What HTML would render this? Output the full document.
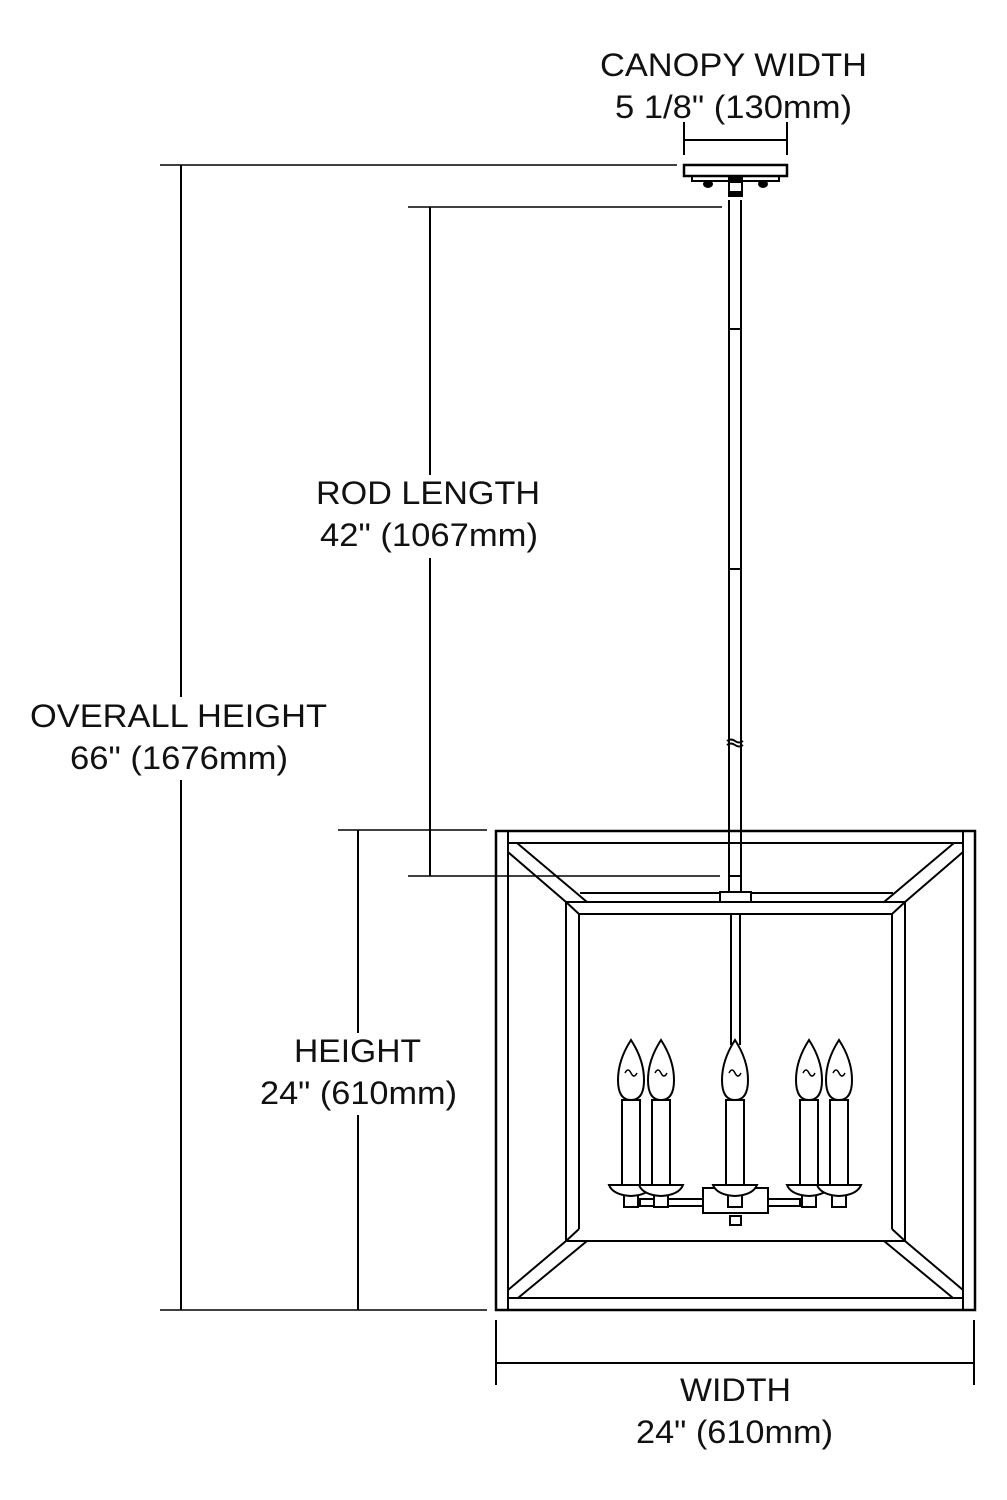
<!DOCTYPE html>
<html><head><meta charset="utf-8"><style>html,body{margin:0;padding:0;background:#fff}svg{display:block}</style></head>
<body>
<svg width="1007" height="1500" viewBox="0 0 1007 1500" xmlns="http://www.w3.org/2000/svg" font-family="Liberation Sans, Arial, sans-serif" font-size="32" fill="#111">
<g stroke="#000" stroke-width="2" fill="none">
<!-- dimension lines -->
<line x1="160" y1="165" x2="677" y2="165" stroke-width="1.5"/>
<line x1="160" y1="1310" x2="487" y2="1310" stroke-width="1.5"/>
<line x1="181" y1="165" x2="181" y2="697"/>
<line x1="181" y1="780" x2="181" y2="1310"/>
<line x1="408" y1="207" x2="722" y2="207" stroke-width="1.5"/>
<line x1="408" y1="876" x2="720" y2="876" stroke-width="1.5"/>
<line x1="430" y1="207" x2="430" y2="475"/>
<line x1="430" y1="558" x2="430" y2="876"/>
<line x1="338" y1="830" x2="487" y2="830" stroke-width="1.5"/>
<line x1="358" y1="830" x2="358" y2="1033"/>
<line x1="358" y1="1115" x2="358" y2="1310"/>
<line x1="496" y1="1320" x2="496" y2="1385"/>
<line x1="974" y1="1320" x2="974" y2="1385"/>
<line x1="496" y1="1363" x2="974" y2="1363"/>
<line x1="684" y1="122" x2="684" y2="155"/>
<line x1="787" y1="122" x2="787" y2="155"/>
<line x1="684" y1="140" x2="787" y2="140"/>
<!-- canopy -->
<rect x="684" y="165" width="103" height="11" stroke-width="2.5"/>
<rect x="692" y="176" width="87" height="5"/>
<rect x="729" y="180" width="13" height="14" fill="#fff"/>
<rect x="729" y="178" width="13" height="4" fill="#000"/>
<rect x="729" y="192" width="13" height="4" fill="#000"/>
<ellipse cx="708" cy="184" rx="4" ry="3" fill="#000"/>
<ellipse cx="763" cy="184" rx="4" ry="3" fill="#000"/>
<!-- rod -->
<line x1="729" y1="200" x2="729" y2="900"/>
<line x1="741" y1="200" x2="741" y2="900"/>
<line x1="729" y1="329" x2="741" y2="329"/>
<line x1="729" y1="569" x2="741" y2="569"/>
<path d="M727 741 q4 -3 8 0 q4 3 8 0 M727 745 q4 -3 8 0 q4 3 8 0"/>
<line x1="729" y1="876" x2="741" y2="876"/>
<!-- outer frame -->
<rect x="496" y="831" width="479" height="479" stroke-width="2.5"/>
<line x1="508" y1="831" x2="508" y2="1310"/>
<line x1="963" y1="831" x2="963" y2="1310"/>
<line x1="508" y1="843" x2="963" y2="843"/>
<line x1="508" y1="1298" x2="963" y2="1298"/>
<!-- inner frame -->
<line x1="566" y1="902" x2="905" y2="902"/>
<line x1="579" y1="914" x2="892" y2="914"/>
<line x1="566" y1="902" x2="566" y2="1241"/>
<line x1="579" y1="914" x2="579" y2="1229"/>
<line x1="905" y1="902" x2="905" y2="1241"/>
<line x1="892" y1="914" x2="892" y2="1229"/>
<line x1="566" y1="1241" x2="905" y2="1241"/>
<line x1="566" y1="902" x2="579" y2="914"/>
<line x1="905" y1="902" x2="892" y2="914"/>
<line x1="566" y1="1241" x2="579" y2="1229"/>
<line x1="905" y1="1241" x2="892" y2="1229"/>
<line x1="580" y1="893" x2="893" y2="893"/>
<!-- diagonals -->
<line x1="517" y1="843" x2="587" y2="902"/>
<line x1="508" y1="852" x2="566" y2="902"/>
<line x1="954" y1="843" x2="884" y2="902"/>
<line x1="963" y1="852" x2="905" y2="902"/>
<line x1="508" y1="1290" x2="566" y2="1241"/>
<line x1="518" y1="1298" x2="587" y2="1241"/>
<line x1="963" y1="1290" x2="905" y2="1241"/>
<line x1="953" y1="1298" x2="884" y2="1241"/>
<!-- center stem -->
<rect x="720" y="892" width="31" height="10" fill="#fff"/>
<line x1="731" y1="914" x2="731" y2="1045"/>
<line x1="740" y1="914" x2="740" y2="1045"/>
<!-- arms -->
<rect x="640" y="1199" width="160" height="7" fill="#fff"/>
<rect x="703" y="1188" width="65" height="25" fill="#fff"/>
<line x1="703" y1="1213" x2="768" y2="1213"/>
<rect x="730" y="1216" width="11" height="9" fill="#fff"/>
</g>
<g stroke="#000" stroke-width="2" fill="#fff" id="c">
</g>
<g stroke="#000" stroke-width="2" fill="#fff">
<g transform="translate(631,0)"><rect x="-7" y="1193" width="14" height="14"/><path d="M-22 1185 h44 q-4 10 -22 11 q-18 -1 -22 -11z"/><rect x="-9" y="1100" width="18" height="85"/><path d="M0 1040 q-13 20 -13 40 q0 20 13 20 q13 0 13 -20 q0 -20 -13 -40z"/><path d="M-6 1073 q3 -6 6 0 q3 6 6 0" fill="none" stroke-width="1.5"/></g>
<g transform="translate(661,0)"><rect x="-7" y="1193" width="14" height="14"/><path d="M-22 1185 h44 q-4 10 -22 11 q-18 -1 -22 -11z"/><rect x="-9" y="1100" width="18" height="85"/><path d="M0 1040 q-13 20 -13 40 q0 20 13 20 q13 0 13 -20 q0 -20 -13 -40z"/><path d="M-6 1073 q3 -6 6 0 q3 6 6 0" fill="none" stroke-width="1.5"/></g>
<g transform="translate(735,0)"><rect x="-7" y="1193" width="14" height="14"/><path d="M-22 1185 h44 q-4 10 -22 11 q-18 -1 -22 -11z"/><rect x="-9" y="1100" width="18" height="85"/><path d="M0 1040 q-13 20 -13 40 q0 20 13 20 q13 0 13 -20 q0 -20 -13 -40z"/><path d="M-6 1073 q3 -6 6 0 q3 6 6 0" fill="none" stroke-width="1.5"/></g>
<g transform="translate(809,0)"><rect x="-7" y="1193" width="14" height="14"/><path d="M-22 1185 h44 q-4 10 -22 11 q-18 -1 -22 -11z"/><rect x="-9" y="1100" width="18" height="85"/><path d="M0 1040 q-13 20 -13 40 q0 20 13 20 q13 0 13 -20 q0 -20 -13 -40z"/><path d="M-6 1073 q3 -6 6 0 q3 6 6 0" fill="none" stroke-width="1.5"/></g>
<g transform="translate(839,0)"><rect x="-7" y="1193" width="14" height="14"/><path d="M-22 1185 h44 q-4 10 -22 11 q-18 -1 -22 -11z"/><rect x="-9" y="1100" width="18" height="85"/><path d="M0 1040 q-13 20 -13 40 q0 20 13 20 q13 0 13 -20 q0 -20 -13 -40z"/><path d="M-6 1073 q3 -6 6 0 q3 6 6 0" fill="none" stroke-width="1.5"/></g>
</g>
<!-- texts -->
<text x="600" y="76" textLength="267" lengthAdjust="spacingAndGlyphs">CANOPY WIDTH</text>
<text x="615" y="118" textLength="237" lengthAdjust="spacingAndGlyphs">5 1/8" (130mm)</text>
<text x="316" y="504" textLength="224" lengthAdjust="spacingAndGlyphs">ROD LENGTH</text>
<text x="320" y="546" textLength="218" lengthAdjust="spacingAndGlyphs">42" (1067mm)</text>
<text x="30" y="727" textLength="297" lengthAdjust="spacingAndGlyphs">OVERALL HEIGHT</text>
<text x="70" y="769" textLength="218" lengthAdjust="spacingAndGlyphs">66" (1676mm)</text>
<text x="294" y="1062" textLength="127" lengthAdjust="spacingAndGlyphs">HEIGHT</text>
<text x="260" y="1104" textLength="197" lengthAdjust="spacingAndGlyphs">24" (610mm)</text>
<text x="680" y="1401" textLength="111" lengthAdjust="spacingAndGlyphs">WIDTH</text>
<text x="636" y="1443" textLength="197" lengthAdjust="spacingAndGlyphs">24" (610mm)</text>
</svg>
</body></html>
